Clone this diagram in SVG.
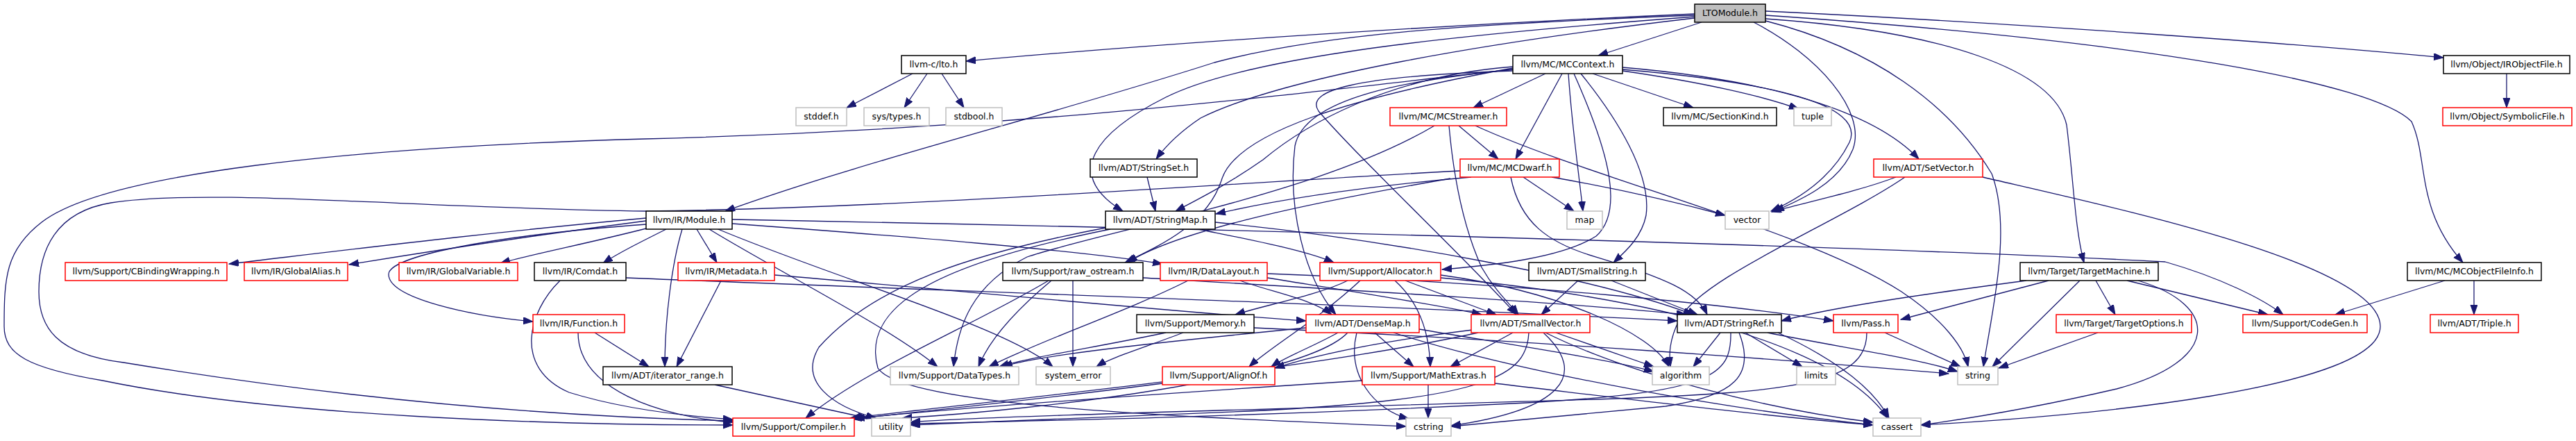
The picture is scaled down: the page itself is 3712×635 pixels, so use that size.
<svg xmlns="http://www.w3.org/2000/svg" width="3712" height="635" viewBox="0 0 3712 635">
<defs>
<style>
.n rect{fill:#ffffff;stroke-width:1.5}
.r rect{stroke:#ff0000}
.b rect{stroke:#000000}
.g rect{stroke:#bfbfbf}
.root rect{fill:#bfbfbf;stroke:#000000}
.n text{font-family:"DejaVu Sans","Liberation Sans",Arial,sans-serif;font-size:12.5px;fill:#000000;text-anchor:middle}
.e path{fill:none;stroke:#191970;stroke-width:1.3;marker-end:url(#ah)}
</style>
<marker id="ah" markerUnits="userSpaceOnUse" markerWidth="15" markerHeight="11" refX="14" refY="5" orient="auto">
<path d="M0,0 L14,5 L0,10 z" fill="#191970" stroke="#191970"/>
</marker>
</defs>
<rect width="3712" height="635" fill="#ffffff"/>
<g id="edges" class="e">
<path d="M2442,20 C2100,35 1700,60 1392,88"/>
<path d="M2452,32 L2303,80"/>
<path d="M2442,22 C2100,35 1900,50 1750,90 C1500,170 1250,230 1045,304"/>
<path d="M2442,24 C2100,50 1800,80 1680,140 C1580,190 1530,250 1618,304"/>
<path d="M2442,26 C2150,60 1850,110 1730,170 C1700,190 1680,210 1666,229"/>
<path d="M2527,32 C2620,80 2690,160 2670,215 C2650,265 2590,290 2557,304"/>
<path d="M2544,30 C2700,70 2810,150 2870,250 C2900,330 2870,450 2858,528"/>
<path d="M2544,27 C2800,45 2960,100 2978,180 C2988,260 2990,330 3003,378"/>
<path d="M2544,16 C2900,33 3300,62 3521,83"/>
<path d="M2544,22 C3100,60 3420,120 3475,175 C3500,230 3480,300 3549,378"/>
<path d="M1315,106 L1220,155"/>
<path d="M1336,106 L1303,155"/>
<path d="M1357,106 L1389,155"/>
<path d="M3612,106 L3612,155"/>
<path d="M2227,106 L2123,155"/>
<path d="M2251,106 L2184,229"/>
<path d="M2260,106 C2265,180 2275,250 2281,304"/>
<path d="M2295,106 L2440,155"/>
<path d="M2338,102 C2450,118 2540,138 2592,157"/>
<path d="M2338,100 C2550,118 2690,150 2665,205 C2640,255 2595,285 2552,304"/>
<path d="M2338,97 C2550,115 2700,160 2765,229"/>
<path d="M2278,106 C2330,170 2380,250 2372,310 C2366,340 2345,360 2325,378"/>
<path d="M2268,106 C2310,200 2345,300 2300,340 C2250,372 2150,382 2078,388"/>
<path d="M2180,96 C2000,110 1880,180 1820,230 C1770,265 1730,285 1694,304"/>
<path d="M2180,98 C1950,140 1780,190 1760,260 C1740,320 1680,350 1621,378"/>
<path d="M2180,100 C2030,115 1880,140 1866,210 C1855,300 1880,400 1925,453"/>
<path d="M2180,102 C1950,110 1880,130 1900,160 C1960,230 2120,380 2185,453"/>
<path d="M2180,100 C1900,130 1500,185 930,200 C500,212 150,250 60,320 C8,360 6,400 6,470 C6,510 40,530 148,548 C400,600 800,612 1056,612"/>
<path d="M2102,181 L2159,229"/>
<path d="M2088,181 C2095,260 2110,330 2135,385 C2155,420 2178,440 2188,453"/>
<path d="M2067,181 C1900,280 1600,330 1480,370 C1400,410 1380,470 1374,528"/>
<path d="M2126,181 C2300,260 2600,330 2740,420 C2800,460 2830,500 2836,528"/>
<path d="M2195,255 L2268,304"/>
<path d="M2236,255 C2350,275 2430,295 2486,310"/>
<path d="M2120,255 C1950,270 1830,290 1752,308"/>
<path d="M2090,257 C1900,290 1700,330 1625,378"/>
<path d="M2104,246 C1800,262 1300,300 930,304 C600,300 300,270 160,292 C80,305 56,360 56,420 C56,470 80,510 178,522 C500,575 800,600 1056,606"/>
<path d="M2177,255 C2190,320 2230,350 2300,370 C2400,400 2445,420 2460,453"/>
<path d="M2732,255 C2680,275 2600,292 2553,305"/>
<path d="M2745,255 C2650,320 2450,400 2420,460 C2405,490 2405,510 2407,528"/>
<path d="M2857,255 C3050,300 3430,380 3430,470 C3430,560 3000,600 2768,612"/>
<path d="M1653,255 L1665,304"/>
<path d="M1727,330 C1800,345 1880,360 1922,378"/>
<path d="M1593,328 C1400,365 1260,410 1180,500 C1150,550 1200,585 1262,602"/>
<path d="M1600,330 C1350,380 1240,440 1265,530 C1300,585 1700,600 2026,614"/>
<path d="M1751,320 C2000,345 2300,400 2440,453"/>
<path d="M931,314 C700,335 500,360 330,380"/>
<path d="M931,318 C760,340 600,365 503,381"/>
<path d="M935,328 C850,350 770,365 721,379"/>
<path d="M960,330 C920,350 890,365 869,379"/>
<path d="M931,323 C700,340 560,370 560,395 C560,430 680,455 768,463"/>
<path d="M1004,330 L1033,378"/>
<path d="M983,330 C968,380 958,460 958,528"/>
<path d="M1022,330 C1120,390 1280,470 1351,528"/>
<path d="M1030,328 C1200,400 1450,470 1517,528"/>
<path d="M1055,322 C1300,340 1550,360 1675,380"/>
<path d="M1055,316 C1800,330 2700,355 3120,377 C3200,400 3260,430 3290,453"/>
<path d="M902,400 C1400,420 2000,440 2417,462"/>
<path d="M807,404 C760,450 740,530 820,565 C900,590 1000,600 1056,604"/>
<path d="M857,479 L935,528"/>
<path d="M833,479 C833,560 950,600 1056,608"/>
<path d="M1039,404 L975,528"/>
<path d="M1116,396 C1400,420 1700,450 1882,462"/>
<path d="M1030,554 L1250,602"/>
<path d="M1511,404 C1400,470 1250,530 1161,602"/>
<path d="M1515,404 C1460,450 1425,490 1410,528"/>
<path d="M1546,404 L1546,528"/>
<path d="M1647,400 C1900,415 2250,435 2430,453"/>
<path d="M1712,404 C1620,450 1500,490 1425,528"/>
<path d="M1787,404 C1830,420 1890,430 1919,453"/>
<path d="M1826,400 C1950,420 2080,440 2135,453"/>
<path d="M1826,394 C2200,408 2500,440 2642,462"/>
<path d="M1680,479 C1580,500 1480,515 1440,528"/>
<path d="M1705,479 C1650,500 1600,515 1580,528"/>
<path d="M1807,472 C2200,490 2600,520 2808,538"/>
<path d="M1942,404 C1900,425 1820,440 1780,453"/>
<path d="M1960,404 C1900,460 1830,500 1800,528"/>
<path d="M2010,404 C2050,440 2060,490 2061,528"/>
<path d="M2025,404 L2156,453"/>
<path d="M2076,396 C2250,420 2380,480 2405,528"/>
<path d="M2076,400 C2400,430 2650,500 2720,602"/>
<path d="M2274,404 L2221,453"/>
<path d="M2322,404 L2446,453"/>
<path d="M1928,479 C1890,500 1850,515 1832,528"/>
<path d="M1981,479 L2037,528"/>
<path d="M1955,479 C1940,540 1980,590 2030,603"/>
<path d="M2008,479 C2200,540 2500,590 2699,612"/>
<path d="M2045,474 C2200,500 2330,520 2383,535"/>
<path d="M1942,479 C1880,545 1500,590 1300,602"/>
<path d="M1882,472 C1700,490 1500,510 1445,528"/>
<path d="M2122,475 C2000,490 1900,510 1837,530"/>
<path d="M2180,479 L2090,528"/>
<path d="M2203,479 C2200,540 2150,575 1800,592 C1600,600 1400,608 1312,612"/>
<path d="M2224,479 C2290,540 2250,590 2091,613"/>
<path d="M2227,479 C2350,540 2550,590 2699,608"/>
<path d="M2242,479 L2383,528"/>
<path d="M2130,479 C1900,530 1500,570 1225,602"/>
<path d="M2479,479 L2440,528"/>
<path d="M2515,479 L2597,528"/>
<path d="M2547,479 C2650,500 2760,515 2821,535"/>
<path d="M2562,479 C2650,520 2700,560 2722,602"/>
<path d="M2494,479 C2495,540 2470,565 2200,580 C1800,600 1500,606 1312,610"/>
<path d="M2506,479 C2530,540 2500,570 2400,585 C2250,600 2150,608 2091,614"/>
<path d="M2716,479 L2825,528"/>
<path d="M2690,479 C2690,550 2600,565 2300,575 C1800,590 1400,600 1312,608"/>
<path d="M2952,404 L2739,460"/>
<path d="M2920,404 C2800,420 2650,440 2567,462"/>
<path d="M2997,404 L2871,528"/>
<path d="M3020,404 L3048,453"/>
<path d="M3065,404 L3268,453"/>
<path d="M3081,404 C3200,440 3200,520 3050,560 C2920,590 2820,605 2768,612"/>
<path d="M3023,479 L2880,530"/>
<path d="M3523,404 L3365,453"/>
<path d="M3565,404 L3565,453"/>
<path d="M2058,554 L2058,602"/>
<path d="M1963,548 C1700,565 1400,585 1228,603"/>
<path d="M2154,552 C2350,575 2550,600 2699,612"/>
<path d="M1675,552 C1500,575 1350,590 1232,603"/>
</g>
<g id="n_LTOModule" class="n root"><rect x="2442" y="6" width="102" height="26"/><text x="2493" y="23">LTOModule.h</text></g>
<g id="n_lto" class="n b"><rect x="1299" y="80" width="93" height="26"/><text x="1345.5" y="97">llvm-c/lto.h</text></g>
<g id="n_MCContext" class="n b"><rect x="2180" y="80" width="158" height="26"/><text x="2259" y="97">llvm/MC/MCContext.h</text></g>
<g id="n_IRObjectFile" class="n b"><rect x="3521" y="80" width="182" height="26"/><text x="3612" y="97">llvm/Object/IRObjectFile.h</text></g>
<g id="n_stddef" class="n g"><rect x="1147" y="155" width="73" height="26"/><text x="1183.5" y="172">stddef.h</text></g>
<g id="n_systypes" class="n g"><rect x="1245" y="155" width="94" height="26"/><text x="1292" y="172">sys/types.h</text></g>
<g id="n_stdbool" class="n g"><rect x="1363" y="155" width="81" height="26"/><text x="1403.5" y="172">stdbool.h</text></g>
<g id="n_MCStreamer" class="n r"><rect x="2003" y="155" width="168" height="26"/><text x="2087" y="172">llvm/MC/MCStreamer.h</text></g>
<g id="n_SectionKind" class="n b"><rect x="2397" y="155" width="163" height="26"/><text x="2478.5" y="172">llvm/MC/SectionKind.h</text></g>
<g id="n_tuple" class="n g"><rect x="2585" y="155" width="54" height="26"/><text x="2612" y="172">tuple</text></g>
<g id="n_SymbolicFile" class="n r"><rect x="3520" y="155" width="186" height="26"/><text x="3613" y="172">llvm/Object/SymbolicFile.h</text></g>
<g id="n_StringSet" class="n b"><rect x="1571" y="229" width="154" height="26"/><text x="1648" y="246">llvm/ADT/StringSet.h</text></g>
<g id="n_MCDwarf" class="n r"><rect x="2104" y="229" width="143" height="26"/><text x="2175.5" y="246">llvm/MC/MCDwarf.h</text></g>
<g id="n_SetVector" class="n r"><rect x="2700" y="229" width="157" height="26"/><text x="2778.5" y="246">llvm/ADT/SetVector.h</text></g>
<g id="n_Module" class="n b"><rect x="931" y="304" width="124" height="26"/><text x="993" y="321">llvm/IR/Module.h</text></g>
<g id="n_StringMap" class="n b"><rect x="1593" y="304" width="158" height="26"/><text x="1672" y="321">llvm/ADT/StringMap.h</text></g>
<g id="n_map" class="n g"><rect x="2258" y="304" width="51" height="26"/><text x="2283.5" y="321">map</text></g>
<g id="n_vector" class="n g"><rect x="2486" y="304" width="63" height="26"/><text x="2517.5" y="321">vector</text></g>
<g id="n_CBinding" class="n r"><rect x="94" y="378" width="233" height="26"/><text x="210.5" y="395">llvm/Support/CBindingWrapping.h</text></g>
<g id="n_GlobalAlias" class="n r"><rect x="352" y="378" width="149" height="26"/><text x="426.5" y="395">llvm/IR/GlobalAlias.h</text></g>
<g id="n_GlobalVariable" class="n r"><rect x="575" y="378" width="171" height="26"/><text x="660.5" y="395">llvm/IR/GlobalVariable.h</text></g>
<g id="n_Comdat" class="n b"><rect x="770" y="378" width="132" height="26"/><text x="836" y="395">llvm/IR/Comdat.h</text></g>
<g id="n_Metadata" class="n r"><rect x="977" y="378" width="139" height="26"/><text x="1046.5" y="395">llvm/IR/Metadata.h</text></g>
<g id="n_raw_ostream" class="n b"><rect x="1445" y="378" width="202" height="26"/><text x="1546" y="395">llvm/Support/raw_ostream.h</text></g>
<g id="n_DataLayout" class="n r"><rect x="1672" y="378" width="154" height="26"/><text x="1749" y="395">llvm/IR/DataLayout.h</text></g>
<g id="n_Allocator" class="n r"><rect x="1902" y="378" width="174" height="26"/><text x="1989" y="395">llvm/Support/Allocator.h</text></g>
<g id="n_SmallString" class="n b"><rect x="2203" y="378" width="168" height="26"/><text x="2287" y="395">llvm/ADT/SmallString.h</text></g>
<g id="n_TargetMachine" class="n b"><rect x="2911" y="378" width="199" height="26"/><text x="3010.5" y="395">llvm/Target/TargetMachine.h</text></g>
<g id="n_MCObjectFileInfo" class="n b"><rect x="3469" y="378" width="193" height="26"/><text x="3565.5" y="395">llvm/MC/MCObjectFileInfo.h</text></g>
<g id="n_Function" class="n r"><rect x="768" y="453" width="132" height="26"/><text x="834" y="470">llvm/IR/Function.h</text></g>
<g id="n_Memory" class="n b"><rect x="1638" y="453" width="169" height="26"/><text x="1722.5" y="470">llvm/Support/Memory.h</text></g>
<g id="n_DenseMap" class="n r"><rect x="1882" y="453" width="163" height="26"/><text x="1963.5" y="470">llvm/ADT/DenseMap.h</text></g>
<g id="n_SmallVector" class="n r"><rect x="2120" y="453" width="171" height="26"/><text x="2205.5" y="470">llvm/ADT/SmallVector.h</text></g>
<g id="n_StringRef" class="n b"><rect x="2417" y="453" width="150" height="26"/><text x="2492" y="470">llvm/ADT/StringRef.h</text></g>
<g id="n_Pass" class="n r"><rect x="2642" y="453" width="93" height="26"/><text x="2688.5" y="470">llvm/Pass.h</text></g>
<g id="n_TargetOptions" class="n r"><rect x="2963" y="453" width="195" height="26"/><text x="3060.5" y="470">llvm/Target/TargetOptions.h</text></g>
<g id="n_CodeGen" class="n r"><rect x="3232" y="453" width="179" height="26"/><text x="3321.5" y="470">llvm/Support/CodeGen.h</text></g>
<g id="n_Triple" class="n r"><rect x="3502" y="453" width="127" height="26"/><text x="3565.5" y="470">llvm/ADT/Triple.h</text></g>
<g id="n_iterator_range" class="n b"><rect x="869" y="528" width="186" height="26"/><text x="962" y="545">llvm/ADT/iterator_range.h</text></g>
<g id="n_DataTypes" class="n g"><rect x="1283" y="528" width="185" height="26"/><text x="1375.5" y="545">llvm/Support/DataTypes.h</text></g>
<g id="n_system_error" class="n g"><rect x="1493" y="528" width="107" height="26"/><text x="1546.5" y="545">system_error</text></g>
<g id="n_AlignOf" class="n r"><rect x="1675" y="528" width="162" height="26"/><text x="1756" y="545">llvm/Support/AlignOf.h</text></g>
<g id="n_MathExtras" class="n r"><rect x="1963" y="528" width="191" height="26"/><text x="2058.5" y="545">llvm/Support/MathExtras.h</text></g>
<g id="n_algorithm" class="n g"><rect x="2381" y="528" width="82" height="26"/><text x="2422" y="545">algorithm</text></g>
<g id="n_limits" class="n g"><rect x="2589" y="528" width="56" height="26"/><text x="2617" y="545">limits</text></g>
<g id="n_string" class="n g"><rect x="2821" y="528" width="58" height="26"/><text x="2850" y="545">string</text></g>
<g id="n_Compiler" class="n r"><rect x="1056" y="602" width="175" height="26"/><text x="1143.5" y="619">llvm/Support/Compiler.h</text></g>
<g id="n_utility" class="n g"><rect x="1256" y="602" width="56" height="26"/><text x="1284" y="619">utility</text></g>
<g id="n_cstring" class="n g"><rect x="2026" y="602" width="65" height="26"/><text x="2058.5" y="619">cstring</text></g>
<g id="n_cassert" class="n g"><rect x="2699" y="602" width="69" height="26"/><text x="2733.5" y="619">cassert</text></g>
</svg>
